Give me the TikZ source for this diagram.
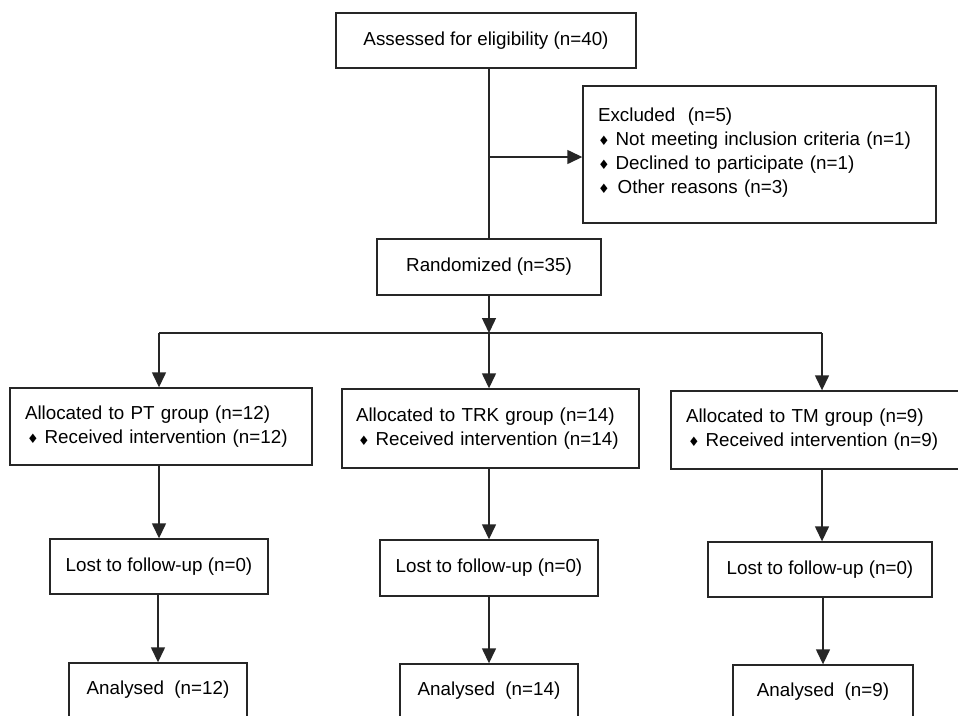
\documentclass[tikz,border=0pt]{standalone}
\usepackage{fontspec}
\setmainfont{Liberation Sans}
\newfontfamily\dejavu{DejaVu Sans}
\usetikzlibrary{arrows.meta}
\newcommand\dia{{\dejavu\fontsize{13}{13}\selectfont ♦}\hspace{6pt}}
\begin{document}
\begin{tikzpicture}[x=1pt,y=-1pt,
  box/.style={draw=black!85, line width=1.4pt, inner sep=0pt, font=\fontsize{18.8}{24}\selectfont},
  lbox/.style={box, align=left, inner xsep=15pt},
  conn/.style={draw=black!85, line width=1.4pt},
  arr/.style={conn, -{Triangle[width=14pt,length=15pt]}}]
\useasboundingbox (0,0) rectangle (958,715);
\fill[white] (0,0) rectangle (958,715);

\node[box, minimum width=300pt, minimum height=55pt] (assess) at (486,40.5) {Assessed for eligibility (n=40)};
\node[lbox, text width=323pt, minimum height=137pt] (excl) at (759.5,154.5)
  {Excluded\ \ (n=5)\\ \dia Not meeting inclusion criteria (n=1)\\ \dia Declined to participate (n=1)\\ \dia\hspace{2pt}Other reasons (n=3)\\[-16pt]\mbox{}};
\node[box, minimum width=224pt, minimum height=56pt] (rand) at (489,267) {Randomized (n=35)};

\node[lbox, text width=272pt, minimum height=77pt] (alloc1) at (161,426.5)
  {Allocated to PT group (n=12)\\ \hspace{2pt}\dia Received intervention (n=12)};
\node[lbox, inner xsep=14pt, text width=269pt, minimum height=79pt] (alloc2) at (490.5,428.5)
  {Allocated to TRK group (n=14)\\ \hspace{2pt}\dia Received intervention (n=14)};
\node[lbox, text width=259pt, minimum height=78pt] (alloc3) at (815.5,430)
  {Allocated to TM group (n=9)\\ \hspace{2pt}\dia Received intervention (n=9)};

\node[box, minimum width=218pt, minimum height=55pt] (lost1) at (159,566.5) {Lost to follow-up (n=0)};
\node[box, minimum width=218pt, minimum height=56pt] (lost2) at (489,568) {Lost to follow-up (n=0)};
\node[box, minimum width=224pt, minimum height=55pt] (lost3) at (820,569.5) {Lost to follow-up (n=0)};

\node[box, minimum width=178pt, minimum height=54pt] (an1) at (158,690) {Analysed\ \ (n=12)};
\node[box, minimum width=178pt, minimum height=54pt] (an2) at (489,691) {Analysed\ \ (n=14)};
\node[box, minimum width=180pt, minimum height=54pt] (an3) at (823,692) {Analysed\ \ (n=9)};

\draw[conn] (rand.north |- assess.south) -- (rand.north);
\coordinate (ej) at (489,157);
\draw[arr] (ej) -- (ej -| excl.west);

\coordinate (bm) at (489,333);
\coordinate (bl) at (159,333);
\coordinate (bri) at (822,333);
\draw[arr] (rand.south) -- (bm);
\draw[conn] (bl) -- (bri);
\draw[arr] (bl) -- (bl |- alloc1.north);
\draw[arr] (bm) -- (bm |- alloc2.north);
\draw[arr] (bri) -- (bri |- alloc3.north);

\draw[arr] (bl |- alloc1.south) -- (bl |- lost1.north);
\draw[arr] (bm |- alloc2.south) -- (bm |- lost2.north);
\draw[arr] (bri |- alloc3.south) -- (bri |- lost3.north);

\draw[arr] (an1.north |- lost1.south) -- (an1.north);
\draw[arr] (an2.north |- lost2.south) -- (an2.north);
\draw[arr] (an3.north |- lost3.south) -- (an3.north);
\end{tikzpicture}
\end{document}
